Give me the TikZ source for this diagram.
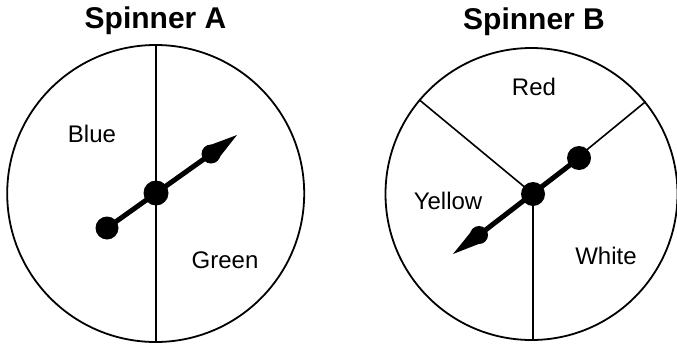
\documentclass[tikz,border=0pt]{standalone}
\usepackage{fontspec}
\setmainfont{Liberation Sans}
\usetikzlibrary{calc}
\begin{document}
\begin{tikzpicture}[x=1pt,y=-1pt,
  rim/.style={draw, circle, inner sep=0pt, line width=1.8pt},
  divider/.style={line width=1.6pt},
  shaft/.style={line width=5pt},
  ball/.style={circle, fill=black, inner sep=0pt},
  lbl/.style={anchor=base, font=\fontsize{24}{28}\selectfont, inner sep=0pt},
  ttl/.style={anchor=base, font=\fontsize{30}{34}\selectfont\bfseries, inner sep=0pt}]
\useasboundingbox (0,0) rectangle (677,343);

% titles
\node[ttl] (tA) at (155.5,28.5) {Spinner A};
\node[ttl] (tB) at (534,29.5) {Spinner B};

% Spinner A
\node[rim, minimum size=297pt] (cA) at (155.7,193.5) {};
\draw[divider] (cA.north) -- (cA.south);
\node[lbl] (blue) at (92,142) {Blue};
\node[lbl] (green) at (225,268) {Green};

\node[ball, minimum size=23pt] (Atail) at (107,228) {};
\node[ball, minimum size=25pt] (Ahub) at (156,193) {};
\node[ball, minimum size=19pt] (Anear) at (211,154) {};
\coordinate (Atip) at (237,135);
\draw[shaft] (Atail.center) -- (Anear.center);
\fill ($(Anear.center)!9pt!90:(Atip)$) -- (Atip) -- ($(Anear.center)!9pt!-90:(Atip)$) -- cycle;

% Spinner B
\node[rim, minimum size=292pt] (cB) at (531.5,194) {};
\node[ball, minimum size=24pt] (Bhub) at (533,194) {};
\draw[divider] (Bhub.center) -- (cB.140);
\draw[divider] (Bhub.center) -- (cB.39);
\draw[divider] (Bhub.center) -- (Bhub.center |- cB.south);
\node[lbl] (red) at (534,95) {Red};
\node[lbl] (yellow) at (448,209) {Yellow};
\node[lbl] (white) at (606,264) {White};

\node[ball, minimum size=24pt] (Btail) at (579,158) {};
\node[ball, minimum size=18pt] (Bnear) at (479,235) {};
\coordinate (Btip) at (453,254);
\draw[shaft] (Btail.center) -- (Bnear.center);
\fill ($(Bnear.center)!8.5pt!90:(Btip)$) -- (Btip) -- ($(Bnear.center)!8.5pt!-90:(Btip)$) -- cycle;
\end{tikzpicture}
\end{document}
